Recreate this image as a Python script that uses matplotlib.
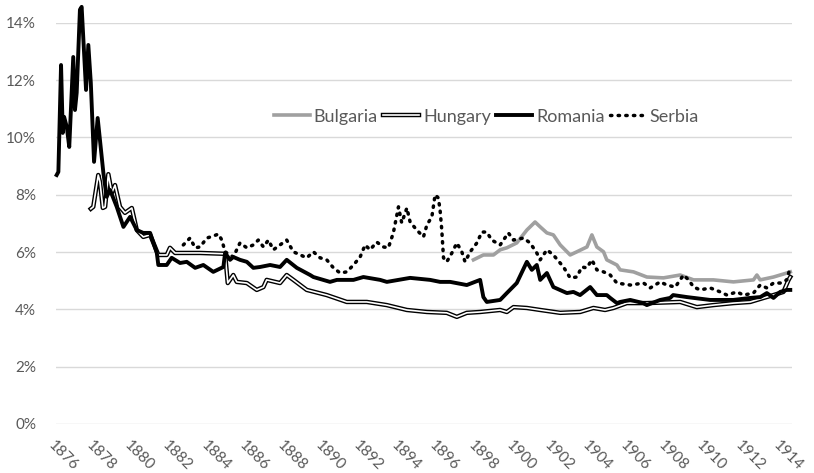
import matplotlib.pyplot as plt
from matplotlib.ticker import FuncFormatter

# interest rates (%); x is the year (fractional)
romania_x = [1876.06, 1876.15, 1876.29, 1876.38, 1876.45, 1876.59, 1876.72, 1876.93, 1877.02,
             1877.11, 1877.28, 1877.37, 1877.60, 1877.72, 1877.85, 1878.02, 1878.21, 1878.51,
             1878.68, 1878.86, 1879.21, 1879.56, 1879.91, 1880.26, 1880.60, 1880.96, 1881.31,
             1881.39, 1881.83, 1882.09, 1882.53, 1882.88, 1883.32, 1883.75, 1884.27, 1884.80,
             1884.89, 1885.15, 1885.32, 1885.67, 1886.03, 1886.37, 1886.72, 1887.25, 1887.77,
             1888.12, 1888.65, 1889.35, 1889.52, 1890.39, 1890.75, 1891.62, 1892.14, 1893.02,
             1893.37, 1894.59, 1895.64, 1896.16, 1896.69, 1897.56, 1898.26, 1898.43, 1898.61,
             1899.31, 1899.66, 1900.18, 1900.71, 1900.97, 1901.23, 1901.41, 1901.76, 1902.10,
             1902.81, 1903.15, 1903.50, 1904.03, 1904.38, 1904.90, 1905.08, 1905.43, 1905.60,
             1906.13, 1906.81, 1907.00, 1907.70, 1908.22, 1908.38, 1909.10, 1910.32, 1911.53,
             1912.42, 1912.95, 1913.29, 1913.64, 1913.99, 1914.34, 1914.52]
romania = [8.69, 8.80, 12.53, 10.16, 10.72, 10.37, 9.67, 12.81, 10.96,
           11.56, 14.46, 14.56, 11.66, 13.23, 11.91, 9.15, 10.68, 8.76,
           7.93, 8.17, 7.58, 6.88, 7.23, 6.77, 6.67, 6.67, 5.97,
           5.55, 5.55, 5.80, 5.62, 5.66, 5.45, 5.55, 5.31, 5.48,
           5.97, 5.73, 5.83, 5.73, 5.66, 5.45, 5.48, 5.55, 5.48,
           5.73, 5.45, 5.20, 5.13, 4.96, 5.03, 5.03, 5.13, 5.03,
           4.96, 5.10, 5.03, 4.96, 4.96, 4.85, 5.03, 4.43, 4.26,
           4.33, 4.57, 4.92, 5.66, 5.38, 5.55, 5.03, 5.27, 4.78,
           4.57, 4.61, 4.50, 4.78, 4.50, 4.50, 4.40, 4.22, 4.26,
           4.33, 4.22, 4.15, 4.33, 4.40, 4.50, 4.43, 4.33, 4.33,
           4.40, 4.43, 4.57, 4.40, 4.61, 4.68, 4.68]

hungary_x = [1877.85, 1877.98, 1878.24, 1878.33, 1878.48, 1878.60, 1878.77, 1878.95, 1879.12,
             1879.38, 1879.64, 1880.00, 1880.26, 1880.60, 1880.96, 1881.22, 1881.39, 1881.83,
             1882.00, 1882.27, 1883.58, 1884.89, 1885.03, 1885.32, 1885.50, 1886.03, 1886.55,
             1886.90, 1887.07, 1887.77, 1888.12, 1888.47, 1889.17, 1890.22, 1891.27, 1892.32,
             1893.37, 1894.42, 1895.47, 1896.51, 1897.04, 1897.56, 1898.26, 1899.31, 1899.66,
             1900.01, 1900.71, 1901.41, 1902.46, 1903.50, 1904.20, 1904.81, 1905.25, 1905.95,
             1907.00, 1908.75, 1909.62, 1910.49, 1911.54, 1912.42, 1913.12, 1913.64, 1914.16,
             1914.43, 1914.52]
hungary = [7.51, 7.58, 8.69, 8.45, 7.54, 7.58, 8.72, 8.07, 8.34,
           7.58, 7.37, 7.54, 6.77, 6.53, 6.60, 6.18, 5.90, 5.90,
           6.15, 5.97, 5.97, 5.94, 4.92, 5.20, 4.96, 4.92, 4.68,
           4.78, 5.03, 4.92, 5.20, 5.03, 4.68, 4.50, 4.26, 4.26,
           4.15, 3.98, 3.91, 3.88, 3.74, 3.88, 3.91, 3.98, 3.91,
           4.08, 4.05, 3.98, 3.88, 3.91, 4.05, 3.98, 4.05, 4.22,
           4.22, 4.26, 4.08, 4.15, 4.22, 4.26, 4.40, 4.50, 4.61,
           5.03, 5.13]

bulgaria_x = [1897.91, 1898.43, 1898.96, 1899.31, 1899.66, 1900.18, 1900.71, 1901.14, 1901.41,
              1901.76, 1902.10, 1902.46, 1902.98, 1903.33, 1903.86, 1904.12, 1904.38, 1904.73,
              1904.90, 1905.43, 1905.60, 1906.30, 1907.00, 1907.87, 1908.75, 1909.45, 1910.49,
              1911.54, 1912.59, 1912.77, 1912.94, 1913.64, 1914.34, 1914.52]
bulgaria = [5.73, 5.90, 5.90, 6.08, 6.15, 6.32, 6.77, 7.05, 6.88,
            6.67, 6.60, 6.25, 5.90, 6.01, 6.18, 6.60, 6.18, 6.01,
            5.73, 5.55, 5.38, 5.31, 5.13, 5.10, 5.20, 5.03, 5.03,
            4.96, 5.03, 5.20, 5.03, 5.13, 5.27, 5.31]

serbia_x = [1882.70, 1883.05, 1883.32, 1883.58, 1883.93, 1884.27, 1884.54, 1884.72, 1884.89,
            1885.32, 1885.67, 1886.03, 1886.37, 1886.63, 1886.90, 1887.16, 1887.42, 1887.77,
            1888.12, 1888.47, 1889.17, 1889.52, 1889.87, 1890.22, 1890.57, 1890.92, 1891.27,
            1891.62, 1891.97, 1892.23, 1892.49, 1892.84, 1893.19, 1893.45, 1893.71, 1893.98,
            1894.15, 1894.42, 1894.59, 1894.94, 1895.29, 1895.47, 1895.73, 1895.90, 1896.07,
            1896.16, 1896.25, 1896.34, 1896.51, 1896.78, 1897.04, 1897.30, 1897.47, 1897.74,
            1898.09, 1898.35, 1898.61, 1898.87, 1899.31, 1899.74, 1900.01, 1900.53, 1900.88,
            1901.23, 1901.41, 1901.76, 1902.10, 1902.63, 1902.98, 1903.33, 1903.59, 1903.85,
            1904.12, 1904.38, 1904.73, 1905.08, 1905.43, 1906.13, 1906.83, 1907.18, 1907.70,
            1908.05, 1908.49, 1908.92, 1909.19, 1909.45, 1909.80, 1910.32, 1910.85, 1911.20,
            1911.72, 1912.07, 1912.59, 1912.94, 1913.29, 1913.64, 1913.99, 1914.34, 1914.52]
serbia = [6.25, 6.49, 6.15, 6.18, 6.49, 6.56, 6.63, 6.42, 6.01,
          5.83, 6.32, 6.15, 6.25, 6.42, 6.18, 6.42, 6.08, 6.25,
          6.42, 6.01, 5.80, 6.01, 5.80, 5.73, 5.45, 5.27, 5.31,
          5.55, 5.83, 6.25, 6.08, 6.35, 6.18, 6.15, 6.67, 7.58,
          7.02, 7.54, 7.05, 6.77, 6.53, 6.95, 7.23, 8.00, 7.89,
          7.47, 6.77, 5.80, 5.66, 5.97, 6.32, 6.01, 5.66, 6.01,
          6.32, 6.70, 6.70, 6.42, 6.25, 6.67, 6.42, 6.49, 6.32,
          5.97, 5.73, 6.08, 5.90, 5.48, 5.10, 5.13, 5.48, 5.45,
          5.73, 5.38, 5.31, 5.20, 4.92, 4.85, 4.92, 4.75, 4.96,
          4.85, 4.78, 5.20, 5.03, 4.78, 4.68, 4.75, 4.61, 4.50,
          4.61, 4.50, 4.57, 4.85, 4.75, 4.92, 4.92, 5.03, 5.48]

year_ticks = list(range(1876, 1915, 2))

txt = '#595959'
plt.rcParams['font.family'] = ['Lato', 'DejaVu Sans']

fig = plt.figure(figsize=(8.14, 4.73), dpi=100)
ax = fig.add_axes([0.0682, 0.1036, 0.905, 0.848])

b, = ax.plot(bulgaria_x, bulgaria, color='#a0a0a0', lw=2.6, clip_on=False, zorder=3)
h1, = ax.plot(hungary_x, hungary, color='black', lw=3.2, clip_on=False, zorder=2)
h2, = ax.plot(hungary_x, hungary, color='white', lw=1.2, clip_on=False, zorder=2)
r, = ax.plot(romania_x, romania, color='black', lw=2.8, clip_on=False, zorder=4)
s, = ax.plot(serbia_x, serbia, color='black', lw=2.5, linestyle=(0, (0.4, 1.8)),
             dash_capstyle='round', clip_on=False, zorder=5)

ax.set_xlim(1876, 1914.62)
ax.set_ylim(0, 14)
ax.set_yticks(range(0, 15, 2))
ax.yaxis.set_major_formatter(FuncFormatter(lambda v, p: '%d%%' % v))
ax.set_xticks(year_ticks)
ax.set_xticklabels([str(y) for y in year_ticks], rotation=-45, ha='left', va='top',
                   rotation_mode='anchor')
ax.tick_params(length=0, colors=txt, labelsize=11)
ax.tick_params(axis='y', pad=14)
ax.tick_params(axis='x', pad=10)
ax.grid(axis='y', color='#d9d9d9', lw=1)
ax.set_axisbelow(True)
for sp in ax.spines.values():
    sp.set_visible(False)

leg = ax.legend([b, (h1, h2), r, s], ['Bulgaria', 'Hungary', 'Romania', 'Serbia'],
                loc='center', bbox_to_anchor=(0.585, 0.766), ncol=4, frameon=False,
                fontsize=13, handlelength=2.0, handletextpad=0.2, columnspacing=0.3)
for t in leg.get_texts():
    t.set_color(txt)

fig.savefig('out.png', dpi=100)
